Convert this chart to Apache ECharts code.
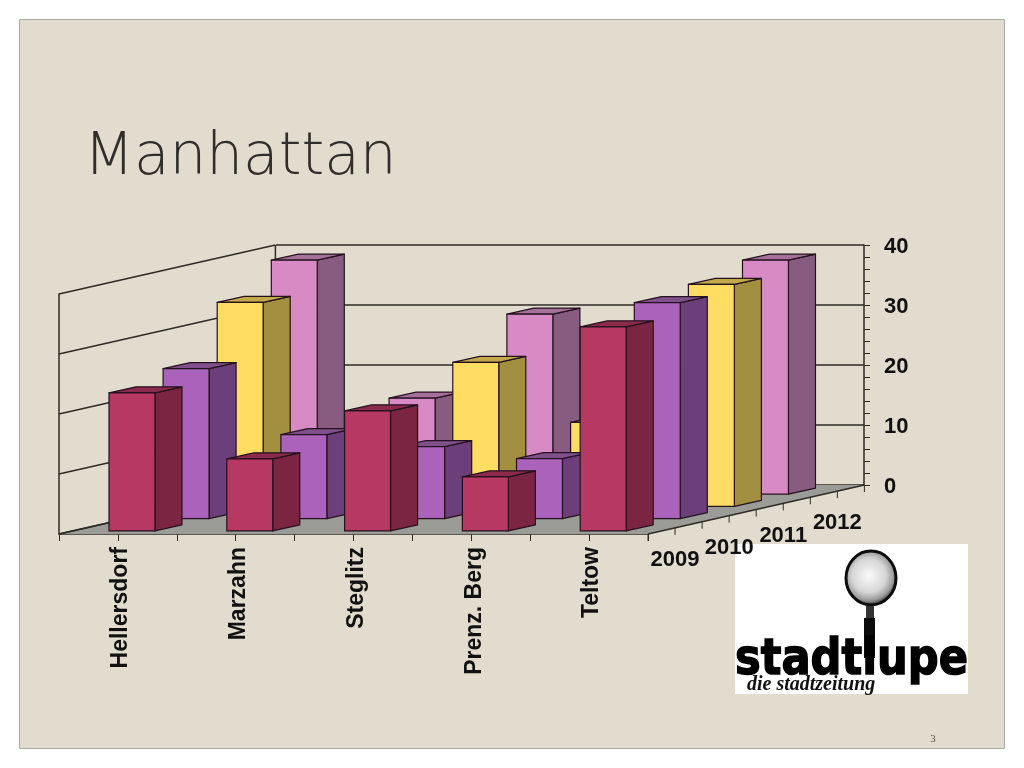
<!DOCTYPE html>
<html>
<head>
<meta charset="utf-8">
<title>Manhattan</title>
<script src="https://cdn.jsdelivr.net/npm/echarts@6/dist/echarts.min.js"></script>
<style>
  html, body { margin: 0; padding: 0; background: #fff; }
  #chart { width: 1024px; height: 768px; }
</style>
</head>
<body>
<div id="chart"></div>
<script>
const cities = ['Hellersdorf', 'Marzahn', 'Steglitz', 'Prenz. Berg', 'Teltow'];
const years = ['2009', '2010', '2011', '2012'];
const values2009 = [23, 12, 20, 9, 34];
const values2010 = [25, 14, 12, 10, 36];
const values2011 = [34, 11, 24, 14, 37];
const values2012 = [39, 16, 30, 20, 39];
const valueTicks = [0, 10, 20, 30, 40];

const yearValues = [values2009, values2010, values2011, values2012];
const frontColors = ['#b73963', '#aa62ba', '#ffdc62', '#d78ac4'];
const sideColors = ['#7b2542', '#6c3f7a', '#a38f40', '#885b80'];
const topColors = ['#8c2a4c', '#80508c', '#c4a94c', '#a5709a'];

// one step along the depth axis, in pixels
const DEPTH_X = 54.1;
const DEPTH_Y = -12.25;
const LINE = '#2e2b25';
const AXIS_FONT = { fontFamily: 'Liberation Sans', fontWeight: 'bold', color: '#111' };

function poly(points, fill, stroke) {
  return {
    type: 'polygon',
    shape: { points: points },
    style: { fill: fill, stroke: stroke || '#25121f', lineWidth: 1.2, lineJoin: 'round' }
  };
}

function line(a, b, width) {
  return {
    type: 'line',
    shape: { x1: a[0], y1: a[1], x2: b[0], y2: b[1] },
    style: { stroke: LINE, lineWidth: width || 1.5 }
  };
}

function bandLeft(api, v) {
  const c = api.coord([0, v]);
  return [c[0] - api.size([1, 0])[0] / 2, c[1]];
}

function renderBar(yearIdx) {
  return function (params, api) {
    const base = api.coord([api.value(0), 0]);
    const top = api.coord([api.value(0), api.value(1)]);
    const band = api.size([1, 0])[0];
    const w = band * 0.39;
    const dx = DEPTH_X * (yearIdx + 0.26);
    const dy = DEPTH_Y * (yearIdx + 0.25);
    const x0 = base[0] - w / 2 + dx;
    const x1 = x0 + w;
    const yb = base[1] + dy;
    const yt = top[1] + dy;
    const sx = DEPTH_X / 2;
    const sy = DEPTH_Y / 2;
    return {
      type: 'group',
      children: [
        poly([[x1, yb], [x1 + sx, yb + sy], [x1 + sx, yt + sy], [x1, yt]], sideColors[yearIdx]),
        poly([[x0, yt], [x0 + sx, yt + sy], [x1 + sx, yt + sy], [x1, yt]], topColors[yearIdx]),
        poly([[x0, yb], [x1, yb], [x1, yt], [x0, yt]], frontColors[yearIdx])
      ]
    };
  };
}

const barSeries = years.map(function (y, i) {
  return {
    name: y,
    type: 'custom',
    xAxisIndex: 0,
    yAxisIndex: 0,
    silent: true,
    z: 10 + (years.length - i),
    renderItem: renderBar(i),
    encode: { x: 0, y: 1 },
    data: yearValues[i].map(function (v, c) { return [c, v]; })
  };
}).reverse();

const floorSeries = {
  type: 'custom',
  xAxisIndex: 0,
  yAxisIndex: 0,
  silent: true,
  z: 3,
  data: [[0, 0]],
  renderItem: function (params, api) {
    const a = bandLeft(api, 0);
    const w = api.size([1, 0])[0] * cities.length;
    const n = years.length;
    const b = [a[0] + w, a[1]];
    const d = [DEPTH_X * n, DEPTH_Y * n];
    const children = [poly([a, b, [b[0] + d[0], b[1] + d[1]], [a[0] + d[0], a[1] + d[1]]], '#9b9b97', 'none')];
    children.push(line(a, [a[0] + d[0], a[1] + d[1]]));
    children.push(line(b, [b[0] + d[0], b[1] + d[1]]));
    return { type: 'group', children: children };
  }
};

const wallSeries = {
  type: 'custom',
  xAxisIndex: 0,
  yAxisIndex: 0,
  silent: true,
  z: 4,
  data: valueTicks.map(function (t) { return [0, t]; }),
  renderItem: function (params, api) {
    const t = api.value(1);
    const a = bandLeft(api, t);
    const n = years.length;
    const b = [a[0] + DEPTH_X * n, a[1] + DEPTH_Y * n];
    const children = [line(a, b)];
    if (t === valueTicks[valueTicks.length - 1]) {
      // back left corner of the walls
      const low = bandLeft(api, 0);
      children.push(line(b, [b[0], low[1] + DEPTH_Y * n]));
    }
    return { type: 'group', children: children };
  }
};

const depthAxisSeries = {
  type: 'custom',
  xAxisIndex: 0,
  yAxisIndex: 0,
  silent: true,
  z: 30,
  data: years.map(function (y, i) { return [i, 0]; }),
  renderItem: function (params, api) {
    const i = params.dataIndex;
    const left = bandLeft(api, 0);
    const x = left[0] + api.size([1, 0])[0] * cities.length;
    const y = left[1];
    const children = [];
    const steps = i === years.length - 1 ? [0, 0.5, 1] : [0, 0.5];
    steps.forEach(function (s) {
      const tx = x + DEPTH_X * (i + s);
      const ty = y + DEPTH_Y * (i + s);
      children.push(line([tx, ty], [tx, ty + 7], 1));
    });
    children.push({
      type: 'text',
      style: {
        text: years[i],
        x: x + DEPTH_X * (i + 0.5),
        y: y + DEPTH_Y * i + 26,
        align: 'center',
        verticalAlign: 'middle',
        font: 'bold 22px "Liberation Sans"',
        fill: '#111'
      }
    });
    return { type: 'group', children: children };
  }
};

const option = {
  animation: false,
  backgroundColor: '#ffffff',
  title: {
    text: 'Manhattan',
    left: 79,
    top: 125,
    textStyle: { fontFamily: 'DejaVu Sans', fontWeight: 200, fontSize: 58, color: '#302e2a' }
  },
  grid: [
    { left: 59, top: 294, width: 589, height: 240 },
    { left: 276, top: 245, width: 588, height: 240 },
    // label-only grids, nudged so the text sits where the reference has it
    { left: 62, top: 294, width: 589, height: 240 },
    { left: 276, top: 247, width: 588, height: 240 }
  ],
  xAxis: [
    {
      type: 'category', gridIndex: 0, data: cities,
      axisLine: { lineStyle: { color: LINE, width: 1.5 } },
      axisTick: { show: true, length: 7, lineStyle: { color: LINE } },
      axisLabel: { show: false }
    },
    {
      type: 'category', gridIndex: 0, data: cities, position: 'bottom',
      axisLine: { show: false },
      axisTick: { show: true, alignWithLabel: true, length: 7, lineStyle: { color: LINE } },
      axisLabel: { show: false }
    },
    { type: 'category', gridIndex: 1, data: cities, show: false },
    {
      type: 'category', gridIndex: 2, data: cities,
      axisLine: { show: false }, axisTick: { show: false },
      axisLabel: Object.assign({ rotate: 90, margin: 13, interval: 0, fontSize: 23 }, AXIS_FONT)
    },
    { type: 'category', gridIndex: 3, data: cities, show: false }
  ],
  yAxis: [
    {
      type: 'value', gridIndex: 0, min: 0, max: 40, interval: 10,
      axisLine: { show: true, lineStyle: { color: LINE, width: 1.5 } },
      axisTick: { show: false }, axisLabel: { show: false }, splitLine: { show: false }
    },
    {
      type: 'value', gridIndex: 1, position: 'right', min: 0, max: 40, interval: 10,
      axisLine: { show: true, lineStyle: { color: LINE, width: 1.5 } },
      axisTick: { show: true, length: 6, lineStyle: { color: LINE } },
      minorTick: { show: true, splitNumber: 5, length: 6, lineStyle: { color: LINE } },
      axisLabel: { show: false },
      splitLine: { show: true, lineStyle: { color: LINE, width: 1.5 } }
    },
    {
      type: 'value', gridIndex: 1, position: 'right', min: 0, max: 40, interval: 10,
      axisLine: { show: false },
      axisTick: { show: false },
      minorTick: { show: true, splitNumber: 5, length: 6, lineStyle: { color: LINE } },
      axisLabel: { show: false },
      splitLine: { show: false }
    },
    { type: 'value', gridIndex: 2, min: 0, max: 40, interval: 10, show: false },
    {
      type: 'value', gridIndex: 3, position: 'right', min: 0, max: 40, interval: 10,
      axisLine: { show: false }, axisTick: { show: false }, splitLine: { show: false },
      axisLabel: Object.assign({ margin: 20, fontSize: 22 }, AXIS_FONT)
    }
  ],
  graphic: [
    {
      type: 'rect', z: -100, silent: true,
      shape: { x: 19.5, y: 19.5, width: 985, height: 729 },
      style: { fill: '#e2dccf', stroke: '#aaa79e', lineWidth: 1 }
    },
    {
      type: 'text', z: 5, silent: true, x: 933, y: 739,
      style: { text: '3', font: '11px "Liberation Serif"', fill: '#55524b', align: 'center', verticalAlign: 'middle' }
    },
    {
      type: 'group', silent: true,
      children: [
        { type: 'rect', z: 20, shape: { x: 735, y: 544, width: 233, height: 150 }, style: { fill: '#fff' } },
        {
          type: 'ellipse', z: 21,
          shape: { cx: 871, cy: 578, rx: 25, ry: 27 },
          style: {
            fill: new echarts.graphic.RadialGradient(0.46, 0.46, 0.58, [
              { offset: 0, color: '#fafafa' },
              { offset: 0.55, color: '#d6d6d6' },
              { offset: 0.8, color: '#9a9a9a' },
              { offset: 1, color: '#1a1a1a' }
            ]),
            stroke: '#0c0c0c', lineWidth: 3
          }
        },
        { type: 'rect', z: 21, shape: { x: 866, y: 606, width: 8, height: 12 }, style: { fill: '#333' } },
        { type: 'rect', z: 21, shape: { x: 864, y: 618, width: 11, height: 40 }, style: { fill: '#0c0c0c' } },
        {
          type: 'text', z: 22, x: 735, y: 636, scaleX: 0.865,
          style: { text: 'stadtlupe', font: 'bold 50px "DejaVu Sans"', fill: '#000', stroke: '#000', lineWidth: 1.5, align: 'left', verticalAlign: 'top' }
        },
        {
          type: 'text', z: 22, x: 747, y: 675,
          style: { text: 'die stadtzeitung', font: 'italic bold 20px "Liberation Serif"', fill: '#111', align: 'left', verticalAlign: 'top' }
        }
      ]
    }
  ],
  series: [floorSeries, wallSeries].concat(barSeries, [depthAxisSeries])
};

const chart = echarts.init(document.getElementById('chart'));
chart.setOption(option);
</script>
</body>
</html>
